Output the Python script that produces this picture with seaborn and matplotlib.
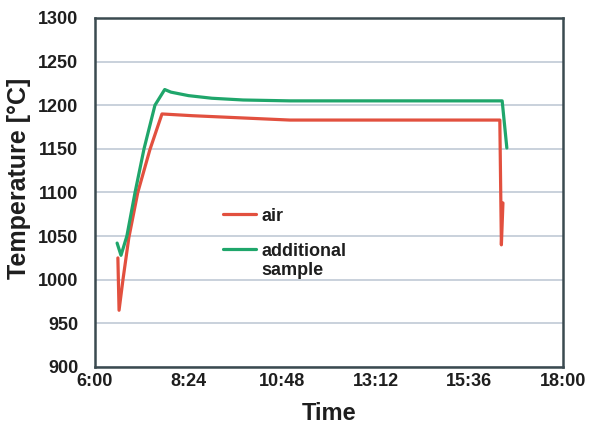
import matplotlib
matplotlib.use("Agg")
import matplotlib.pyplot as plt
from matplotlib.offsetbox import HPacker
import seaborn as sns
import pandas as pd

# Furnace temperature log (time in decimal hours)
air_time = [6.59, 6.62, 6.72, 6.87, 7.10, 7.41, 7.72, 8.50, 10.0, 11.0, 16.38, 16.42, 16.46]
air_temp = [1025, 965, 1000, 1048, 1100, 1149, 1190, 1188, 1185, 1183, 1183, 1040, 1088]

sample_time = [6.57, 6.67, 6.82, 7.03, 7.26, 7.54, 7.79, 7.95, 8.40, 9.00, 9.80, 11.0, 16.44, 16.56]
sample_temp = [1042, 1028, 1050, 1100, 1150, 1200, 1218, 1215, 1211, 1208, 1206, 1205, 1205, 1151]

series_names = ["air", "additional\nsample"]
series_colors = ["#e2503f", "#1fa66b"]

x_ticks = [6.0, 8.4, 10.8, 13.2, 15.6, 18.0]
x_tick_labels = ["6:00", "8:24", "10:48", "13:12", "15:36", "18:00"]
y_ticks = [900, 950, 1000, 1050, 1100, 1150, 1200, 1250, 1300]

df = pd.concat([
    pd.DataFrame({"Time": air_time, "Temperature": air_temp, "series": series_names[0]}),
    pd.DataFrame({"Time": sample_time, "Temperature": sample_temp, "series": series_names[1]}),
], ignore_index=True)

sns.set_theme(style="white")
plt.rcParams["font.family"] = ["Liberation Sans", "DejaVu Sans"]
plt.rcParams["font.weight"] = "bold"

fig = plt.figure(figsize=(6.16, 4.25), dpi=100)
ax = fig.add_axes([0.154, 0.1365, 0.760, 0.8212])

sns.lineplot(data=df, x="Time", y="Temperature", hue="series",
             palette=dict(zip(series_names, series_colors)),
             sort=False, estimator=None, linewidth=2.3, ax=ax)

ax.set_xlim(6, 18)
ax.set_ylim(900, 1300)
ax.set_xticks(x_ticks)
ax.set_xticklabels(x_tick_labels)
ax.set_yticks(y_ticks)

ax.yaxis.grid(True, color="#c9d1dc", linewidth=1.4)
ax.xaxis.grid(False)
ax.set_axisbelow(True)

for s in ax.spines.values():
    s.set_color("#3b4a50")
    s.set_linewidth(1.8)

ax.tick_params(axis="both", length=0, labelsize=13, labelcolor="#1e1e1e")
ax.tick_params(axis="y", pad=12)
ax.tick_params(axis="x", pad=4)
for lab in ax.get_xticklabels() + ax.get_yticklabels():
    lab.set_fontweight("bold")

ax.set_xlabel("Time", fontsize=17, fontweight="bold", color="#1e1e1e", labelpad=9)
ax.set_ylabel("Temperature [°C]", fontsize=18, fontweight="bold", color="#1e1e1e")
ax.yaxis.set_label_coords(-0.137, 0.54)

leg = ax.legend(loc="upper left", bbox_to_anchor=(0.24, 0.503), frameon=False,
                fontsize=13, handlelength=1.8, handletextpad=0.3, labelspacing=1.0)
for t in leg.get_texts():
    t.set_fontweight("bold")
    t.set_color("#1e1e1e")
# keep each legend line level with the first line of its label
for hp in leg.findobj(HPacker):
    hp.align = "top"

fig.savefig("out.png", dpi=100, facecolor="white")
